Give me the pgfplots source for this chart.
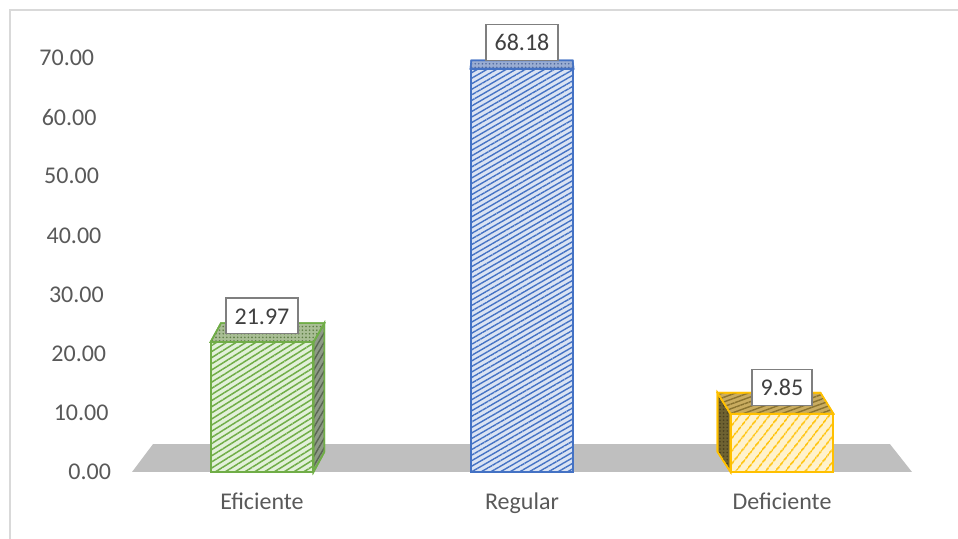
\documentclass[border=0pt]{standalone}
\usepackage{fontspec}
\setmainfont{Carlito}
\usepackage{pgfplots}
\pgfplotsset{compat=1.18}
\usetikzlibrary{patterns.meta}
\definecolor{gline}{HTML}{70AD47}
\definecolor{gfill}{HTML}{E2F0D9}
\definecolor{gtop}{HTML}{A9BE95}
\definecolor{gtopdot}{HTML}{5E7F45}
\definecolor{gside}{HTML}{8E9A86}
\definecolor{gsideln}{HTML}{5A6653}
\definecolor{bline}{HTML}{4472C4}
\definecolor{bfill}{HTML}{DAE3F3}
\definecolor{btop}{HTML}{9AADD2}
\definecolor{btopdot}{HTML}{4F69A0}
\definecolor{yline}{HTML}{FFC000}
\definecolor{yfill}{HTML}{FFF2CC}
\definecolor{ytop}{HTML}{C9AC60}
\definecolor{ytopln}{HTML}{8A7330}
\definecolor{yside}{HTML}{6E6232}
\definecolor{ysidedot}{HTML}{4A4020}
\definecolor{floorgray}{HTML}{BFBFBF}
\definecolor{tickgray}{HTML}{595959}
\definecolor{labgray}{HTML}{7F7F7F}
\definecolor{txtgray}{HTML}{404040}
\definecolor{framegray}{HTML}{D9D9D9}
\begin{document}
\begin{tikzpicture}
\useasboundingbox (0,0) rectangle (479pt,269.5pt);
\draw[framegray, line width=0.6pt] (5pt,0) -- (5pt,264.5pt) -- (479pt,264.5pt);
\begin{axis}[
  at={(66pt,33.5pt)}, anchor=south west,
  scale only axis, width=390pt, height=207pt,
  xmin=-0.5, xmax=2.5, ymin=0, ymax=70,
  ytick={0,10,...,70},
  xtick={0,1,2}, xticklabels={Eficiente,Regular,Deficiente},
  axis line style={draw=none}, major tick length=0pt,
  clip=false,
  /pgf/number format/assume math mode=true,
  tick label style={font=\fontsize{12}{14}\selectfont, text=tickgray},
  yticklabel style={/pgf/number format/fixed, /pgf/number format/fixed zerofill, /pgf/number format/precision=2, xshift={-7pt-1.2pt*\ticknum}},
  xticklabel style={yshift=-7pt},
  every node near coord/.append style={anchor=south, yshift=3.8pt, draw=labgray, line width=0.7pt, fill=white, text=txtgray,
     font=\fontsize{12}{14}\selectfont, inner xsep=4.3pt, inner ysep=4.8pt, text height=8.3pt, text depth=0pt,
     /pgf/number format/fixed, /pgf/number format/fixed zerofill, /pgf/number format/precision=2},
]
% floor
\addplot[fill=floorgray, draw=none] coordinates {(-0.5,0) (2.5,0) (2.415,4.73) (-0.419,4.73)} -- cycle;

% Eficiente: side, top, front
\addplot[fill=gside, draw=gline, line width=0.8pt, postaction={pattern={Lines[angle=60,distance=2.4pt,line width=0.7pt]}, pattern color=gsideln}]
  coordinates {(0.198,0) (0.198,21.97) (0.24,25.17) (0.24,3.4)} -- cycle;
\addplot[fill=gtop, draw=gline, line width=0.8pt, postaction={pattern={Dots[radius=0.45pt,distance=1.8pt]}, pattern color=gtopdot}]
  coordinates {(-0.198,21.97) (0.198,21.97) (0.24,25.17) (-0.158,25.17)} -- cycle;
\addplot[ybar, nodes near coords, bar width=0.396, bar shift=0pt, fill=gfill, draw=gline, line width=1pt,
  postaction={pattern={Lines[angle=32,distance=2.6pt,line width=0.75pt]}, pattern color=gline}]
  coordinates {(0,21.97)};

% Regular: top, front
\addplot[fill=btop, draw=bline, line width=0.8pt, postaction={pattern={Dots[radius=0.45pt,distance=1.8pt]}, pattern color=btopdot}]
  coordinates {(0.802,68.18) (1.198,68.18) (1.195,69.6) (0.805,69.6)} -- cycle;
\addplot[ybar, nodes near coords, bar width=0.396, bar shift=0pt, fill=bfill, draw=bline, line width=1pt,
  postaction={pattern={Lines[angle=30,distance=2.4pt,line width=0.7pt]}, pattern color=bline}]
  coordinates {(1,68.18)};

% Deficiente: side, top, front
\addplot[fill=yside, draw=yline, line width=0.8pt, postaction={pattern={Dots[radius=0.45pt,distance=1.8pt]}, pattern color=ysidedot}]
  coordinates {(1.802,0) (1.802,9.85) (1.752,13.4) (1.752,3.4)} -- cycle;
\addplot[fill=ytop, draw=yline, line width=0.8pt, postaction={pattern={Lines[angle=20,distance=2.2pt,line width=0.7pt]}, pattern color=ytopln}]
  coordinates {(1.802,9.85) (2.198,9.85) (2.148,13.4) (1.752,13.4)} -- cycle;
\addplot[ybar, nodes near coords, bar width=0.396, bar shift=0pt, fill=yfill, draw=yline, line width=1pt,
  postaction={pattern={Lines[angle=52,distance=4pt,line width=0.9pt]}, pattern color=yline}]
  coordinates {(2,9.85)};
\end{axis}
\end{tikzpicture}
\end{document}
